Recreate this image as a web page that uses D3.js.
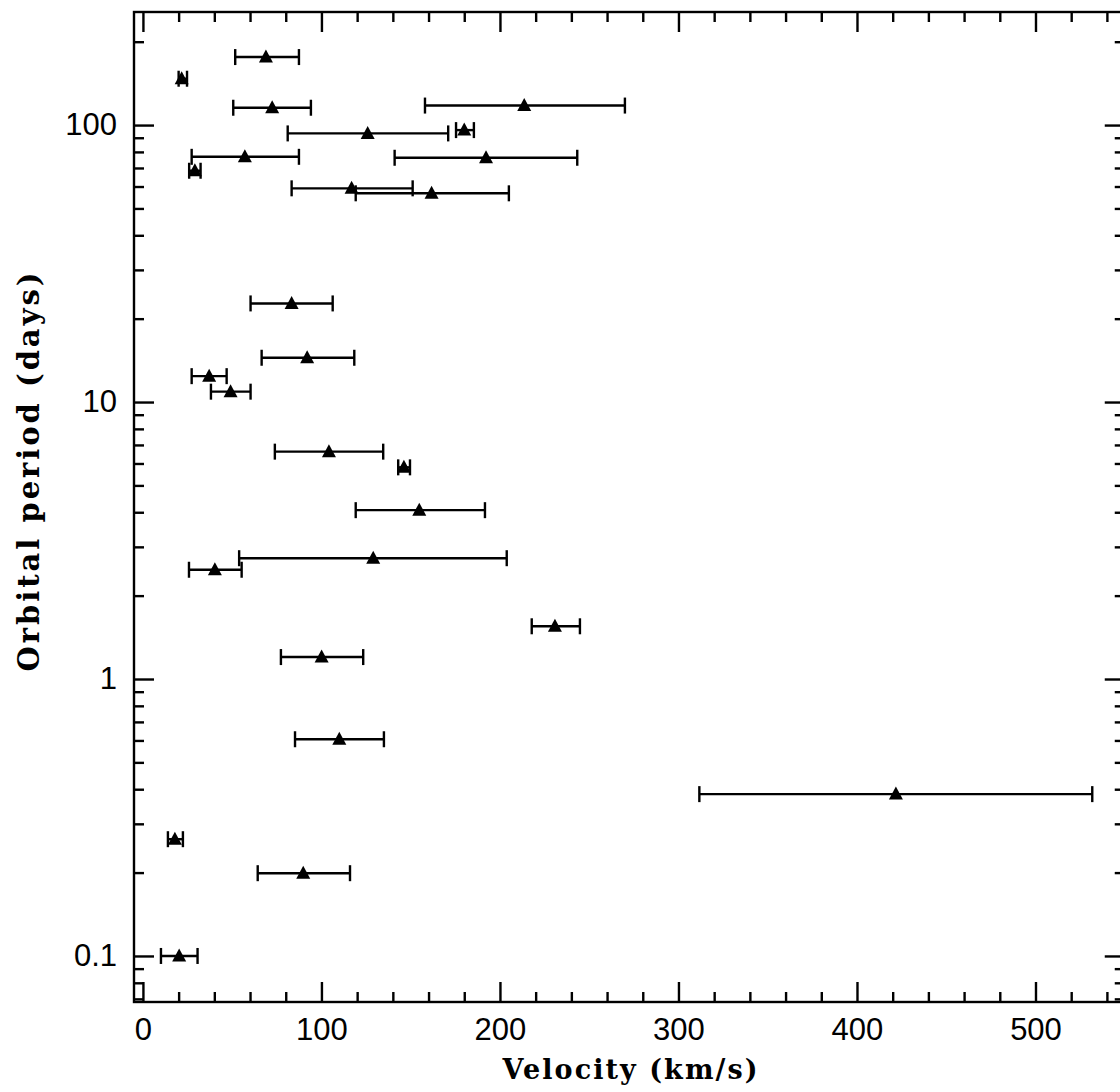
<!DOCTYPE html>
<html>
<head>
<meta charset="utf-8">
<script src="https://cdn.jsdelivr.net/npm/d3@7"></script>
<style>
  body { margin: 0; background: #fff; }
  .axis text { font-family: "Liberation Sans", Arial, sans-serif; font-size: 31px; fill: #000; }
  .axis line { stroke: #000; stroke-width: 2.4px; }
  .axis path { display: none; }
  .axis-title { font-family: "DejaVu Serif", serif; font-weight: 600; fill: #000; }
</style>
</head>
<body>
<svg id="chart"></svg>
<script>
// ordered top to bottom
const period   = [176, 147, 115.5, 117.6, 93.3, 95.9, 76.8, 76.2, 68.4, 59.1, 56.7, 22.7, 14.45, 12.4, 10.9, 6.62, 5.81, 4.07, 2.73, 2.48, 1.55, 1.2, 0.606, 0.384, 0.264, 0.199, 0.1];
const velocity = [68.9, 21.7, 72.4, 213.6, 125.9, 180.0, 57.1, 192.2, 29.1, 116.9, 161.7, 83.3, 92.0, 37.1, 49.1, 104.2, 146.2, 154.8, 129.0, 40.3, 230.8, 100.1, 110.0, 421.8, 17.9, 89.8, 20.3];
const velLow   = [51.7, 20.0, 50.6, 158, 81.1, 175.4, 27.3, 141, 25.9, 83.3, 119.2, 60.3, 66.5, 27.3, 38.1, 73.9, 143, 119.2, 53.9, 25.8, 217.8, 77.3, 85.2, 311.7, 14.0, 64.3, 10.1];
const velHigh  = [87.4, 24.7, 94.1, 270, 171.0, 185.4, 87.4, 243.3, 32.3, 151.1, 205.0, 106.3, 118.4, 46.9, 60.3, 134.6, 149.6, 191.6, 203.8, 55.3, 244.8, 123.4, 135.0, 531.8, 22.4, 116.0, 30.6];

const xMajor = [0, 100, 200, 300, 400, 500];
const yMajor = [0.1, 1, 10, 100];

class ErrorBarChart {

    constructor(_config, _data) {
        this.config = {
            parentElement: _config.parentElement,
            containerWidth: _config.containerWidth || 1120,
            containerHeight: _config.containerHeight || 1092,
            margin: _config.margin || { top: 12, left: 134 }
        };
        this.data = _data;
        this.initVis();
    }

    initVis() {
        let vis = this;
        const m = vis.config.margin;

        vis.width = 990.75;
        vis.height = 990;

        vis.xScale = d3.scaleLinear()
            .domain([-5, 550])
            .range([0, vis.width]);

        vis.yScale = d3.scaleLog()
            .domain([0.0682, 256])
            .range([vis.height, 0]);

        // minor ticks every 20 km/s, and 2..9 per decade
        vis.xMinor = d3.range(0, 560, 20).filter(d => d % 100 !== 0);
        vis.yMinor = [];
        [0.01, 0.1, 1, 10, 100].forEach(dec => {
            for (let k = 2; k <= 9; k++) {
                const v = dec * k;
                if (v >= 0.0682 && v <= 256) vis.yMinor.push(v);
            }
        });

        vis.svg = d3.select(vis.config.parentElement)
            .attr('width', vis.config.containerWidth)
            .attr('height', vis.config.containerHeight);

        vis.chart = vis.svg.append('g')
            .attr('transform', `translate(${m.left},${m.top})`);

        // frame
        vis.chart.append('rect')
            .attr('width', vis.width)
            .attr('height', vis.height)
            .attr('fill', 'none')
            .attr('stroke', '#000')
            .attr('stroke-width', 2.4);

        const fmtY = d3.format('~g');

        // bottom
        vis.chart.append('g').attr('class', 'axis')
            .attr('transform', `translate(0,${vis.height})`)
            .call(d3.axisBottom(vis.xScale).tickValues(xMajor).tickSizeInner(-20).tickSizeOuter(0).tickPadding(16));
        vis.chart.append('g').attr('class', 'axis')
            .attr('transform', `translate(0,${vis.height})`)
            .call(d3.axisBottom(vis.xScale).tickValues(vis.xMinor).tickSizeInner(-10).tickSizeOuter(0).tickFormat(''));
        // top
        vis.chart.append('g').attr('class', 'axis')
            .call(d3.axisTop(vis.xScale).tickValues(xMajor).tickSizeInner(-20).tickSizeOuter(0).tickFormat(''));
        vis.chart.append('g').attr('class', 'axis')
            .call(d3.axisTop(vis.xScale).tickValues(vis.xMinor).tickSizeInner(-10).tickSizeOuter(0).tickFormat(''));
        // left
        vis.chart.append('g').attr('class', 'axis')
            .call(d3.axisLeft(vis.yScale).tickValues(yMajor).tickSizeInner(-20).tickSizeOuter(0).tickPadding(17).tickFormat(fmtY));
        vis.chart.append('g').attr('class', 'axis')
            .call(d3.axisLeft(vis.yScale).tickValues(vis.yMinor).tickSizeInner(-10).tickSizeOuter(0).tickFormat(''));
        // right
        vis.chart.append('g').attr('class', 'axis')
            .attr('transform', `translate(${vis.width},0)`)
            .call(d3.axisRight(vis.yScale).tickValues(yMajor).tickSizeInner(-20).tickSizeOuter(0).tickFormat(''));
        vis.chart.append('g').attr('class', 'axis')
            .attr('transform', `translate(${vis.width},0)`)
            .call(d3.axisRight(vis.yScale).tickValues(vis.yMinor).tickSizeInner(-10).tickSizeOuter(0).tickFormat(''));

        vis.svg.append('text')
            .attr('class', 'axis-title')
            .attr('x', 630).attr('y', 1079)
            .attr('text-anchor', 'middle')
            .attr('textLength', 255)
            .attr('lengthAdjust', 'spacing')
            .style('font-size', '27px')
            .text('Velocity (km/s)');

        vis.svg.append('text')
            .attr('class', 'axis-title')
            .attr('transform', 'translate(39,472) rotate(-90)')
            .attr('text-anchor', 'middle')
            .attr('textLength', 399)
            .attr('lengthAdjust', 'spacing')
            .style('font-size', '29px')
            .text('Orbital period (days)');

        vis.marks = vis.chart.append('g');
    }

    renderVis() {
        let vis = this;
        const capH = 8;

        const pts = vis.marks.selectAll('.pt')
            .data(vis.data)
            .join('g')
            .attr('class', 'pt')
            .attr('stroke', '#000')
            .attr('stroke-width', 2.4);

        pts.append('line')
            .attr('x1', d => vis.xScale(d.lo))
            .attr('x2', d => vis.xScale(d.hi))
            .attr('y1', d => vis.yScale(d.p))
            .attr('y2', d => vis.yScale(d.p));

        pts.append('line')
            .attr('x1', d => vis.xScale(d.lo))
            .attr('x2', d => vis.xScale(d.lo))
            .attr('y1', d => vis.yScale(d.p) - capH)
            .attr('y2', d => vis.yScale(d.p) + capH);

        pts.append('line')
            .attr('x1', d => vis.xScale(d.hi))
            .attr('x2', d => vis.xScale(d.hi))
            .attr('y1', d => vis.yScale(d.p) - capH)
            .attr('y2', d => vis.yScale(d.p) + capH);

        pts.append('path')
            .attr('d', 'M0,-7.5L7,5.5L-7,5.5Z')
            .attr('stroke', 'none')
            .attr('fill', '#000')
            .attr('transform', d => `translate(${vis.xScale(d.v)},${vis.yScale(d.p)})`);
    }
}

const rows = period.map((p, i) => ({ p: p, v: velocity[i], lo: velLow[i], hi: velHigh[i] }));
const chart = new ErrorBarChart({ parentElement: '#chart' }, rows);
chart.renderVis();
</script>
</body>
</html>
